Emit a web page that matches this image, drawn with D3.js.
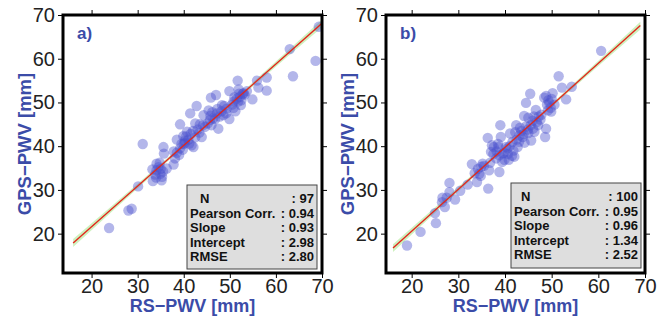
<!DOCTYPE html>
<html><head><meta charset="utf-8">
<script src="https://cdn.jsdelivr.net/npm/d3@7"></script>
<style>
html,body{margin:0;padding:0;background:#fff;}
svg{display:block;font-family:"Liberation Sans",Arial,Helvetica,sans-serif;}
</style></head>
<body><svg id="chart" width="664" height="320"></svg>
<script>
// ---------- data ----------
const tickValues = [20, 30, 40, 50, 60, 70];
const panelLabels = ["a)", "b)"];
const xLabel = "RS\u2212PWV [mm]";
const yLabel = "GPS\u2212PWV [mm]";

const rsA = [23.8,28.0,28.7,30.1,31.1,33.2,33.3,34.1,34.9,35.2,35.6,35.7,34.1,36.3,37.8,38.1,38.5,39.2,39.2,39.9,40.3,40.7,41.4,41.7,42.1,42.5,42.8,43.4,43.9,44.3,44.6,45.4,45.7,45.9,47.0,46.4,47.2,47.5,48.3,48.6,49.3,49.9,49.9,50.8,51.2,51.5,51.7,51.9,52.2,52.4,53.0,53.7,54.9,55.9,56.2,58.0,58.0,63.0,63.7,68.6,69.3,
  34.5,35.0,34.0,35.3,33.8,34.8,35.5,
  40.5,41.0,41.5,42.0,42.5,43.0,41.2,40.2,43.5,44.2,
  45.2,45.8,46.2,46.8,47.8,48.2,48.8,47.3,46.0,49.2,
  50.5,51.0,51.8,52.5,52.8,53.2,52.0,50.8,
  38.5,39.0,39.5,37.8,39.8,40.0];
const gpsA = [21.3,25.3,25.7,30.8,40.5,34.7,32.0,36.0,33.7,32.2,39.8,38.3,34.5,34.9,35.8,37.2,41.5,39.5,45.0,42.3,40.8,43.3,47.5,40.2,39.8,45.2,49.2,43.1,42.1,47.1,44.4,48.2,46.0,51.1,51.7,46.4,47.5,44.0,49.4,47.1,48.6,46.2,52.6,50.2,48.0,50.9,55.0,53.0,51.3,49.4,52.1,52.6,50.7,55.0,53.4,55.7,52.7,62.2,56.0,59.5,67.3,
  35.2,34.8,32.8,33.0,33.5,36.2,34.2,
  42.2,41.5,42.8,43.5,42.0,43.8,40.6,41.2,45.0,44.8,
  45.2,47.0,47.8,46.2,46.8,48.0,49.2,48.5,44.8,47.5,
  49.5,51.2,50.2,50.5,52.0,51.8,52.0,48.8,
  38.5,38.0,40.5,38.8,39.2,40.5];

const rsB = [19.0,21.9,25.0,25.2,26.6,27.1,28.1,28.1,29.3,30.4,32.0,32.9,34.0,34.5,34.9,35.2,36.3,36.4,36.6,37.0,37.6,38.1,38.6,38.8,39.0,39.1,39.5,39.9,40.2,40.6,41.1,41.6,42.0,42.4,42.7,43.1,43.8,44.1,44.5,44.9,45.4,45.6,45.9,46.3,46.6,47.1,47.6,48.4,48.6,48.8,49.5,49.9,50.2,50.6,51.5,52.2,53.1,54.3,60.6,
  33.5,34.2,35.5,34.8,
  37.5,38.2,38.8,39.8,40.5,41.0,41.5,40.8,
  42.5,43.0,43.5,44.0,44.5,45.0,45.5,46.0,46.8,47.2,44.2,45.0,
  49.0,49.3,49.8,49.2,50.0,48.8,
  26.5,27.5,
  36.8,37.2,38.5,42.2,43.2,46.2,47.8,41.8,39.4];
const gpsB = [17.3,20.4,24.7,22.4,28.2,26.1,31.6,29.5,27.8,29.8,31.2,35.9,31.8,33.7,35.3,36.0,41.9,30.3,34.5,38.7,39.8,37.2,39.8,34.1,44.8,42.1,38.3,36.9,39.8,38.2,42.9,41.0,37.6,44.8,39.8,42.5,42.1,46.9,49.9,43.8,52.0,41.3,45.8,43.3,48.3,44.8,46.1,51.1,42.1,44.0,49.9,47.9,52.1,49.5,56.0,53.4,50.7,53.6,61.8,
  33.8,34.8,35.5,33.2,
  38.2,38.8,37.9,38.5,39.5,40.0,37.8,36.9,
  41.5,41.0,43.5,42.8,44.5,43.0,44.8,44.0,45.5,46.8,40.8,46.5,
  49.5,50.5,48.8,48.2,50.8,51.5,
  27.2,28.2,
  36.2,40.2,40.5,43.2,44.2,46.8,47.2,39.0,36.4];

const statNames = ["N", "Pearson Corr.", "Slope", "Intercept", "RMSE"];
const statsA = ["97", "0.94", "0.93", "2.98", "2.80"];
const statsB = ["100", "0.95", "0.96", "1.34", "2.52"];
const slopes = [0.93, 0.96];
const intercepts = [2.98, 1.34];
const fitStart = [16, 16];
const fitEnd = [70, 69];
const bandX = [16, 45, 70];
const bandHalf = [0.9, 0.35, 0.9];

// ---------- layout ----------
const svg = d3.select("#chart");
const blue = "#3b4ca8";
const panels = [
  {rs: rsA, gps: gpsA, stats: statsA, label: panelLabels[0], xDom: [13.8, 70], x0: 63, x1: 322, box: [187, 185, 317, 269], nIndent: 10},
  {rs: rsB, gps: gpsB, stats: statsB, label: panelLabels[1], xDom: [14.5, 70], x0: 386, x1: 645, box: [511, 183, 641, 268], nIndent: 7}
];
const yTop = 15, yBot = 273;

panels.forEach((p, i) => {
  const x = d3.scaleLinear().domain(p.xDom).range([p.x0, p.x1]);
  const y = d3.scaleLinear().domain([11, 70]).range([yBot, yTop]);
  const g = svg.append("g");

  const clipId = "clip" + i;
  g.append("clipPath").attr("id", clipId).append("rect")
    .attr("x", p.x0).attr("y", yTop).attr("width", p.x1 - p.x0).attr("height", yBot - yTop);
  const plot = g.append("g").attr("clip-path", `url(#${clipId})`);

  // confidence band
  const bx = bandX.map((v, k) => k === bandX.length - 1 ? fitEnd[i] : v);
  const band = d3.area()
    .x(d => x(d[0]))
    .y0(d => y(slopes[i] * d[0] + intercepts[i] - d[1]))
    .y1(d => y(slopes[i] * d[0] + intercepts[i] + d[1]))
    .curve(d3.curveMonotoneX);
  plot.append("path").datum(bx.map((v, k) => [v, bandHalf[k]]))
    .attr("d", band).attr("fill", "#c9efb8").attr("opacity", 0.9);

  // points
  plot.selectAll("circle.pt").data(p.rs.map((v, k) => [v, p.gps[k]]))
    .join("circle").attr("class", "pt")
    .attr("cx", d => x(d[0])).attr("cy", d => y(d[1])).attr("r", 5.2)
    .attr("fill", "#4a50cc").attr("fill-opacity", 0.42);

  // regression line
  plot.append("line")
    .attr("x1", x(fitStart[i])).attr("y1", y(slopes[i] * fitStart[i] + intercepts[i]))
    .attr("x2", x(fitEnd[i])).attr("y2", y(slopes[i] * fitEnd[i] + intercepts[i]))
    .attr("stroke", "#e3261c").attr("stroke-width", 1.4);

  // axes
  const styleAxis = sel => { sel.select(".domain").remove(); sel.selectAll(".tick line").attr("stroke", "#000").attr("stroke-width", 1); };
  g.append("g").attr("transform", `translate(0,${yBot + 1})`)
    .call(d3.axisBottom(x).tickValues(tickValues).tickSize(4).tickPadding(1).tickFormat(d3.format("d")))
    .call(styleAxis)
    .selectAll("text").attr("font-size", 20).attr("fill", "#222").attr("font-family", "Liberation Sans, Arial, sans-serif");
  g.append("g").attr("transform", `translate(0,${yTop - 1})`)
    .call(d3.axisTop(x).tickValues(tickValues).tickSize(4).tickFormat(""))
    .call(styleAxis);
  g.append("g").attr("transform", `translate(${p.x0 - 1},0)`)
    .call(d3.axisLeft(y).tickValues(tickValues).tickSize(4).tickPadding(3).tickFormat(d3.format("d")))
    .call(styleAxis)
    .selectAll("text").attr("font-size", 20).attr("fill", "#222").attr("font-family", "Liberation Sans, Arial, sans-serif");
  g.append("g").attr("transform", `translate(${p.x1 + 1},0)`)
    .call(d3.axisRight(y).tickValues(tickValues).tickSize(4).tickFormat(""))
    .call(styleAxis);

  // frame
  g.append("rect").attr("x", p.x0).attr("y", yTop).attr("width", p.x1 - p.x0).attr("height", yBot - yTop)
    .attr("fill", "none").attr("stroke", "#000").attr("stroke-width", 3);

  // panel label
  g.append("text").attr("x", p.x0 + 14).attr("y", 39).text(p.label)
    .attr("font-size", 17).attr("font-weight", "bold").attr("fill", blue);

  // axis labels
  g.append("text").attr("x", (p.x0 + p.x1) / 2).attr("y", 312).attr("text-anchor", "middle")
    .text(xLabel).attr("font-size", 18).attr("font-weight", "bold").attr("fill", blue);
  g.append("text").attr("transform", `translate(${p.x0 - 32},${(yTop + yBot) / 2}) rotate(-90)`)
    .attr("text-anchor", "middle").text(yLabel)
    .attr("font-size", 18.5).attr("font-weight", "bold").attr("fill", blue);

  // stats box
  const [bx0, by0, bx1, by1] = p.box;
  g.append("rect").attr("x", bx0).attr("y", by0).attr("width", bx1 - bx0).attr("height", by1 - by0)
    .attr("fill", "#dedede").attr("stroke", "#444").attr("stroke-width", 1);
  statNames.forEach((nm, k) => {
    const ty = by0 + 18 + k * 14.5;
    g.append("text").attr("x", bx0 + 3 + (k === 0 ? p.nIndent : 0)).attr("y", ty).text(nm)
      .attr("font-size", 13).attr("font-weight", "bold").attr("fill", "#111");
    g.append("text").attr("x", bx1 - 3).attr("y", ty).attr("text-anchor", "end").text(": " + p.stats[k])
      .attr("font-size", 13).attr("font-weight", "bold").attr("fill", "#111");
  });
});
</script></body></html>
